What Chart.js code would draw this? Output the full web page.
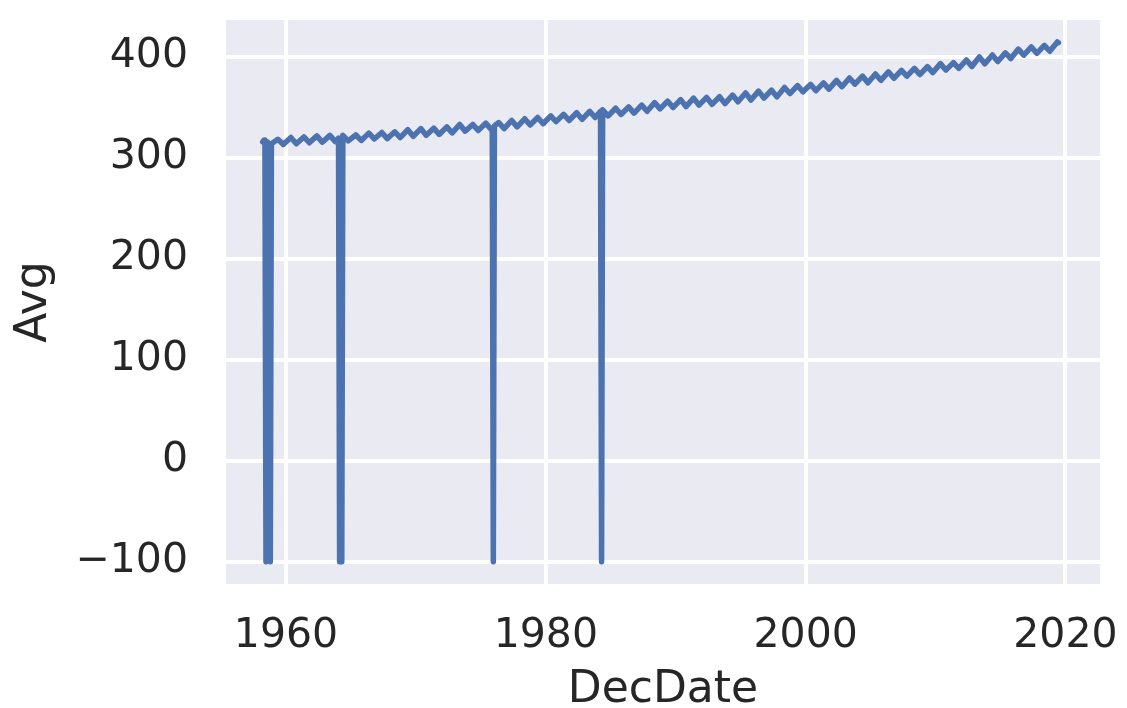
<!DOCTYPE html>
<html>
<head>
<meta charset="utf-8">
<script src="https://cdn.jsdelivr.net/npm/chart.js@4/dist/chart.umd.min.js"></script>
<style>
  body { margin: 0; background: #ffffff; }
</style>
</head>
<body>
<canvas id="myChart" width="1127" height="708"></canvas>
<script>
// monthly readings for the first (partial) year, two gaps stored as -99.99
const startDates = [1958.208, 1958.292, 1958.375, 1958.458, 1958.542, 1958.625, 1958.708, 1958.792, 1958.875, 1958.958];
const startAvg = [315.71, 317.45, 317.50, -99.99, 315.86, 314.93, 313.20, -99.99, 313.33, 314.67];

// full years: May high and October low of each year
const years = [
  1959, 1960, 1961, 1962, 1963, 1964, 1965, 1966, 1967, 1968,
  1969, 1970, 1971, 1972, 1973, 1974, 1975, 1976, 1977, 1978,
  1979, 1980, 1981, 1982, 1983, 1984, 1985, 1986, 1987, 1988,
  1989, 1990, 1991, 1992, 1993, 1994, 1995, 1996, 1997, 1998,
  1999, 2000, 2001, 2002, 2003, 2004, 2005, 2006, 2007, 2008,
  2009, 2010, 2011, 2012, 2013, 2014, 2015, 2016, 2017, 2018,
];
const mayAvg = [
  318.29, 320.03, 320.6, 321.7, 322.2, 322.2, 322.6, 324.4, 325.0, 325.7,
  327.8, 328.9, 329.3, 330.6, 333.0, 333.0, 334.3, 334.9, 337.0, 338.6,
  339.9, 341.5, 343.0, 344.6, 346.0, 347.6, 349.0, 350.4, 352.2, 354.6,
  356.1, 357.6, 359.1, 359.8, 360.4, 362.1, 364.2, 366.0, 366.9, 369.6,
  371.5, 372.6, 374.1, 376.6, 379.0, 380.9, 382.9, 385.1, 386.6, 388.5,
  390.2, 393.2, 394.2, 396.8, 399.8, 401.8, 403.9, 407.6, 409.7, 411.2,
];
const octAvg = [
  313.26, 313.83, 314.9, 315.4, 316.0, 316.7, 317.2, 318.6, 319.0, 320.0,
  321.2, 322.2, 323.1, 324.6, 326.3, 327.0, 328.1, 328.9, 330.6, 332.4,
  333.7, 335.8, 336.9, 338.0, 339.9, 341.4, 342.8, 344.2, 346.0, 348.4,
  349.7, 350.7, 352.1, 352.8, 353.6, 355.4, 357.2, 359.2, 360.3, 363.6,
  365.3, 366.5, 368.0, 370.3, 372.9, 374.2, 376.7, 378.7, 380.8, 382.4,
  384.4, 386.8, 388.6, 390.3, 393.1, 395.3, 398.3, 401.6, 403.4, 405.5,
];

// months right beside the gaps
const nearGapDates = [1964.042, 1975.875, 1976.042, 1984.208];
const nearGapAvg = [319.4, 329.3, 331.6, 346.0];

// months with no reading (stored as -99.99 in the table)
const gapDates = [1964.125, 1964.208, 1964.292, 1975.958, 1984.292];
const missingValue = -99.99;

// last months of the record
const endDates = [2019.375, 2019.458];
const endAvg = [414.66, 413.92];

const xTicks = [1960, 1980, 2000, 2020];
const yTicks = [-100, 0, 100, 200, 300, 400];

const MAY = 0.375;
const OCT = 0.792;

const ctx = document.getElementById('myChart');

function buildPoints() {
  const pts = [];
  startDates.forEach((d, i) => pts.push({ x: d, y: startAvg[i] }));
  years.forEach((yr, i) => {
    pts.push({ x: yr + MAY, y: mayAvg[i] });
    pts.push({ x: yr + OCT, y: octAvg[i] });
  });
  nearGapDates.forEach((d, i) => pts.push({ x: d, y: nearGapAvg[i] }));
  gapDates.forEach((d) => pts.push({ x: d, y: missingValue }));
  endDates.forEach((d, i) => pts.push({ x: d, y: endAvg[i] }));
  pts.sort((a, b) => a.x - b.x);
  return pts;
}

const plotBg = {
  id: 'plotBg',
  beforeDraw(chart) {
    const { ctx, chartArea } = chart;
    ctx.save();
    ctx.fillStyle = '#eaeaf2';
    ctx.fillRect(chartArea.left, chartArea.top, chartArea.right - chartArea.left, chartArea.bottom - chartArea.top);
    ctx.restore();
  },
};

// no extra room for the edge tick labels
const noEdgePadding = (scale) => {
  scale.paddingTop = 0;
  scale.paddingBottom = 0;
  scale.paddingLeft = 0;
  scale.paddingRight = 0;
};

const textColor = '#262626';
const fontFamily = "'DejaVu Sans', sans-serif";

const config = {
  type: 'line',
  data: {
    datasets: [
      {
        label: 'Avg',
        data: buildPoints(),
        borderColor: '#4c72b0',
        borderWidth: 5.5,
        borderCapStyle: 'round',
        borderJoinStyle: 'round',
        pointRadius: 0,
        tension: 0,
        fill: false,
      },
    ],
  },
  options: {
    responsive: false,
    animation: false,
    layout: {
      padding: { top: 20, right: 27, left: 0, bottom: 0 },
    },
    plugins: {
      legend: { display: false },
      tooltip: { enabled: false },
    },
    scales: {
      x: {
        type: 'linear',
        min: 1955.38,
        max: 2022.66,
        afterBuildTicks: (scale) => {
          scale.ticks = xTicks.map((v) => ({ value: v }));
        },
        afterFit: (scale) => {
          scale.height = 124;
          noEdgePadding(scale);
        },
        grid: { color: '#ffffff', lineWidth: 4, drawTicks: false },
        border: { display: false },
        ticks: {
          color: textColor,
          padding: 28,
          maxRotation: 0,
          font: { family: fontFamily, size: 41 },
          callback: (v) => String(v),
        },
        title: {
          display: true,
          text: 'DecDate',
          color: textColor,
          font: { family: fontFamily, size: 44, lineHeight: 0.8 },
          padding: 0,
        },
      },
      y: {
        type: 'linear',
        min: -122,
        max: 436.4,
        afterBuildTicks: (scale) => {
          scale.ticks = yTicks.map((v) => ({ value: v }));
        },
        afterFit: (scale) => {
          scale.width = 226;
          noEdgePadding(scale);
        },
        grid: { color: '#ffffff', lineWidth: 4, drawTicks: false },
        border: { display: false },
        ticks: {
          color: textColor,
          padding: 38,
          font: { family: fontFamily, size: 41 },
          callback: (v) => (v < 0 ? '\u2212' + Math.abs(v) : String(v)),
        },
        title: {
          display: true,
          text: 'Avg',
          color: textColor,
          font: { family: fontFamily, size: 44, lineHeight: 1.2 },
          padding: { top: 8, bottom: 0 },
        },
      },
    },
  },
  plugins: [plotBg],
};

const chart = new Chart(ctx, config);
</script>
</body>
</html>
